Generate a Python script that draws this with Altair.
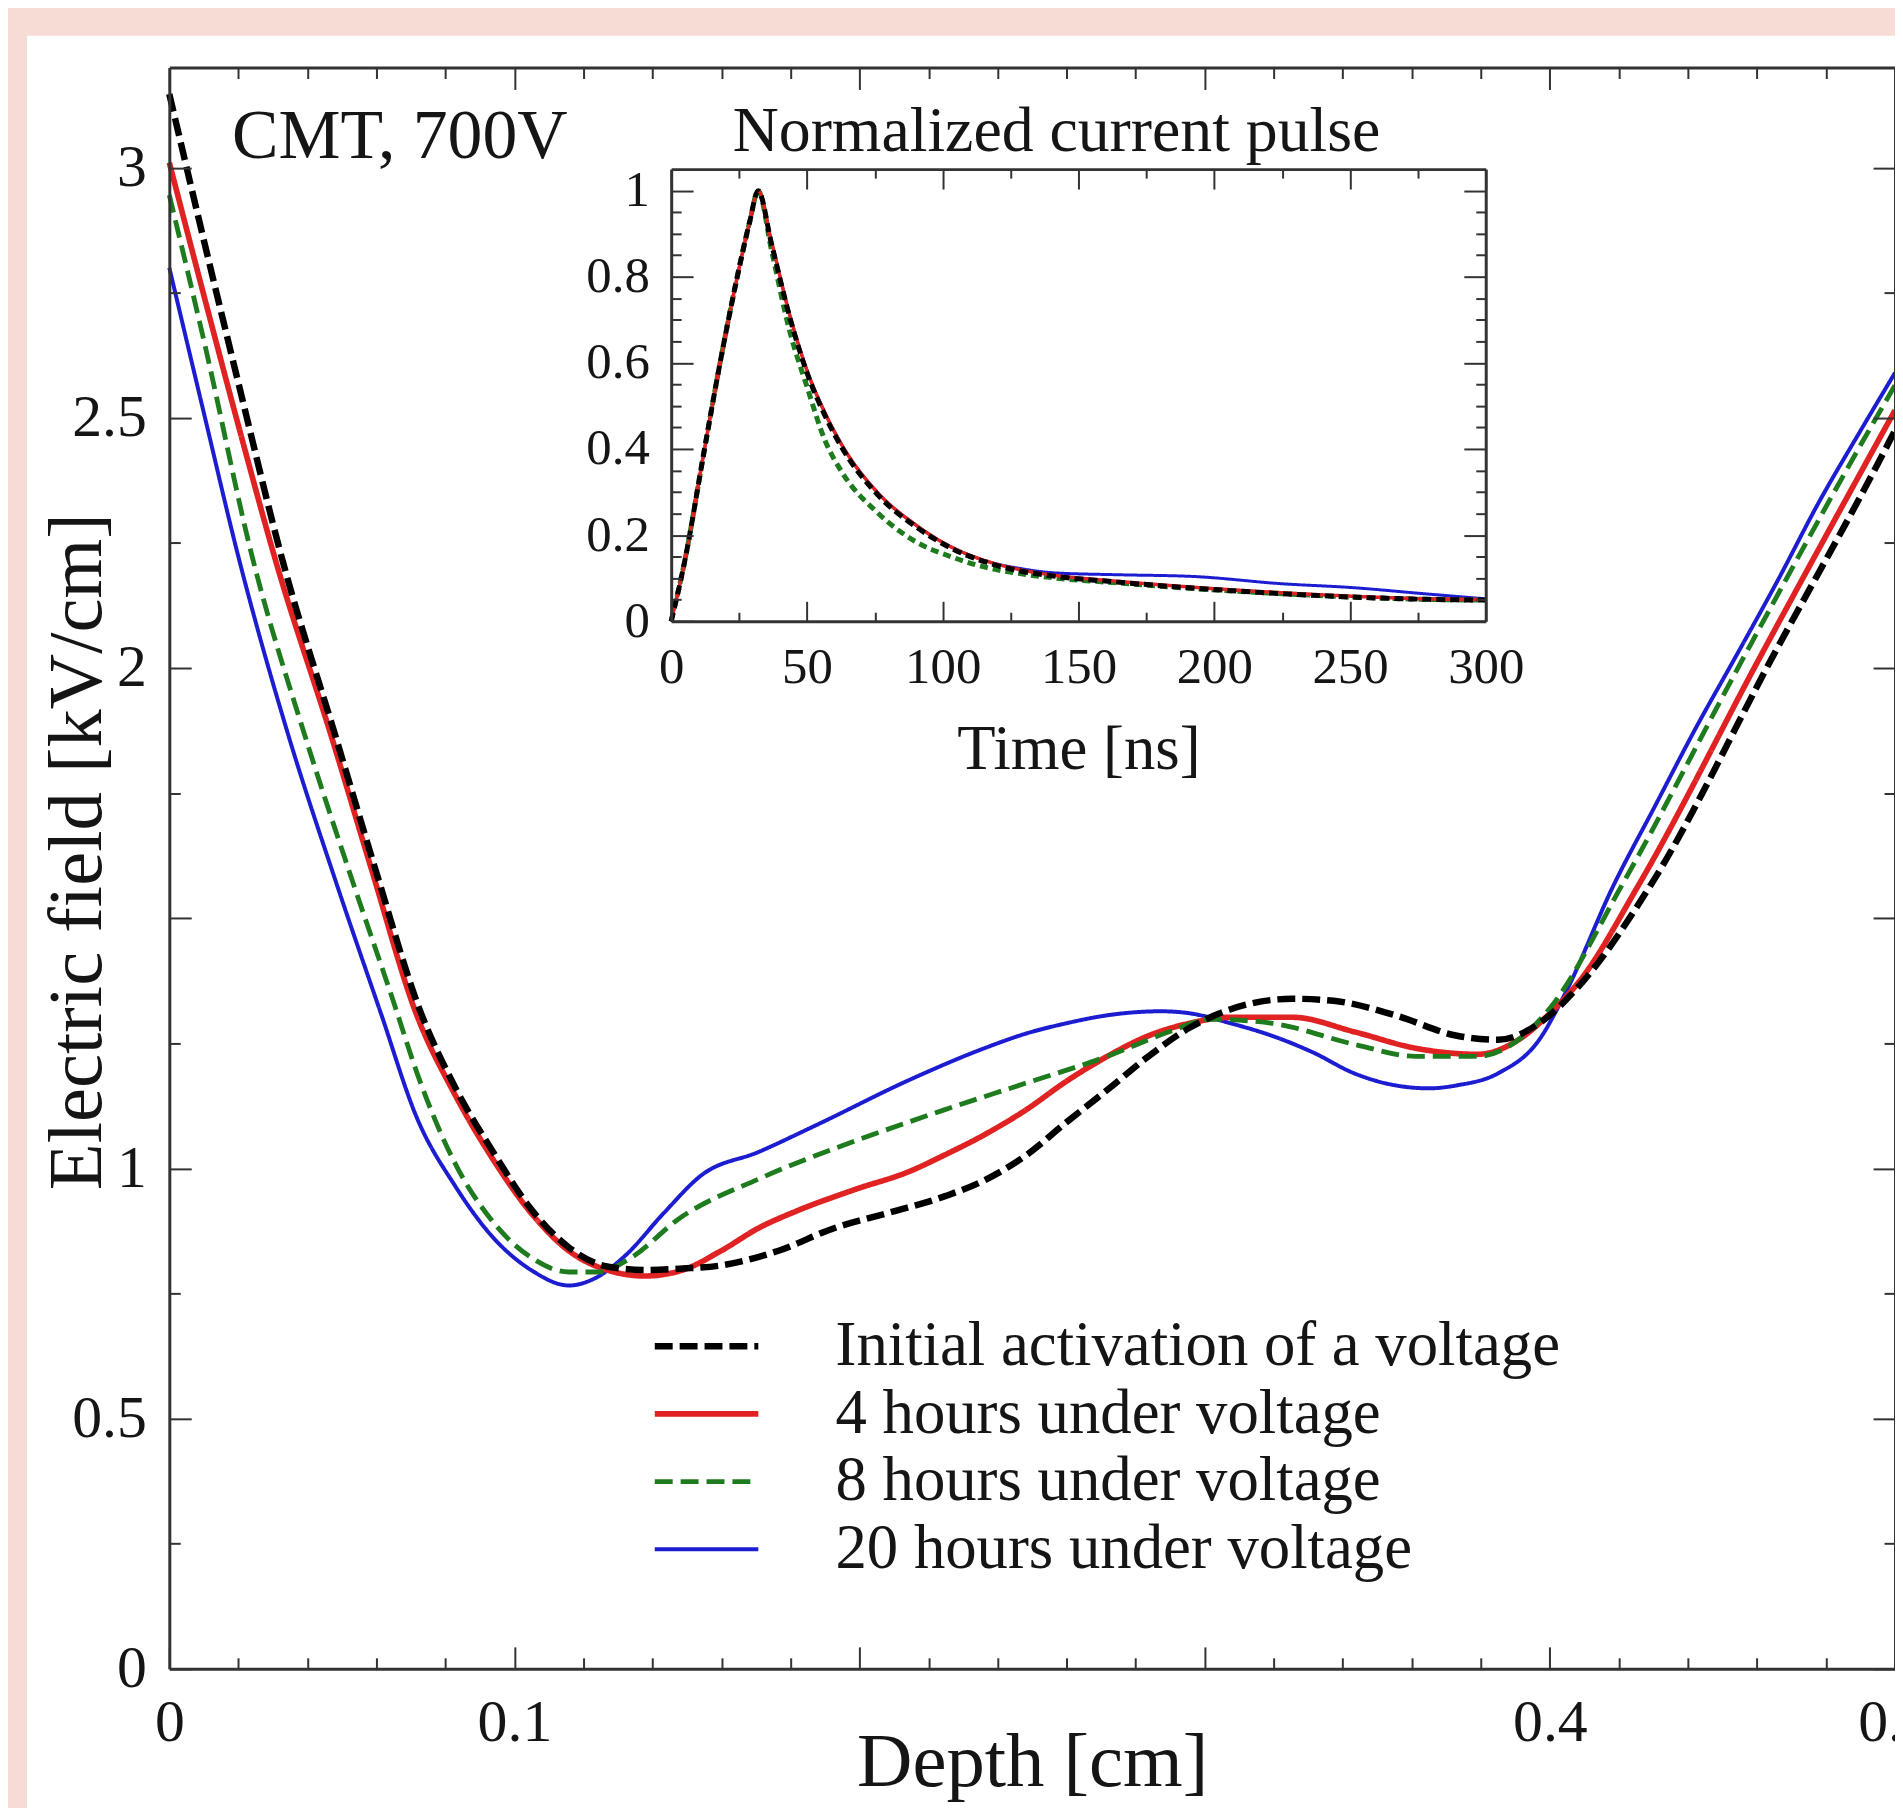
import altair as alt
import pandas as pd

# ---------------- data ----------------
series_names = [
    "Initial activation of a voltage",
    "4 hours under voltage",
    "8 hours under voltage",
    "20 hours under voltage",
]
series_colors = ["#000000", "#e02222", "#1e7b1e", "#1c1cd0"]

# main panel: electric field vs depth
depth_initial = [0, 0.01, 0.02, 0.033, 0.0484, 0.060, 0.0725, 0.0828, 0.0938, 0.1048, 0.1158, 0.1268,
                 0.1378, 0.1488, 0.1598, 0.1763, 0.1928, 0.2093, 0.2250, 0.2361, 0.2480, 0.2599, 0.2718,
                 0.2837, 0.2956, 0.3075, 0.3254, 0.3373, 0.3552, 0.3731, 0.3850, 0.3969, 0.4100, 0.4291,
                 0.4649, 0.4980, 0.5]
field_initial = [3.147, 2.855, 2.57, 2.21, 1.858, 1.591, 1.318, 1.162, 1.033, 0.919, 0.842, 0.804,
                 0.797, 0.800, 0.806, 0.835, 0.881, 0.913, 0.945, 0.976, 1.025, 1.092, 1.157,
                 1.224, 1.281, 1.318, 1.339, 1.335, 1.306, 1.265, 1.257, 1.290, 1.377, 1.565,
                 2.027, 2.448, 2.475]

depth_4h = [0, 0.01, 0.02, 0.031, 0.0472, 0.0587, 0.0715, 0.0828, 0.0938, 0.1048, 0.1158, 0.1268,
            0.1378, 0.1488, 0.1598, 0.1708, 0.1818, 0.1983, 0.2148, 0.2241, 0.2361, 0.2480, 0.2599,
            0.2718, 0.2837, 0.2956, 0.3075, 0.3254, 0.3433, 0.3612, 0.3790, 0.3909, 0.4000, 0.4089,
            0.4256, 0.4613, 0.4980, 0.5]
field_4h = [3.01, 2.745, 2.485, 2.21, 1.858, 1.595, 1.31, 1.147, 1.018, 0.911, 0.835, 0.797,
            0.785, 0.797, 0.835, 0.881, 0.915, 0.957, 0.995, 1.025, 1.067, 1.116, 1.174,
            1.224, 1.265, 1.290, 1.302, 1.302, 1.273, 1.240, 1.228, 1.257, 1.310, 1.377,
            1.565, 2.027, 2.490, 2.515]

depth_8h = [0, 0.01, 0.0241, 0.0395, 0.0523, 0.0651, 0.0718, 0.0828, 0.0938, 0.1048, 0.1158, 0.1246,
            0.1323, 0.1488, 0.1708, 0.1928, 0.2148, 0.2241, 0.2480, 0.2718, 0.2897, 0.3016, 0.3195,
            0.3433, 0.3612, 0.3790, 0.3909, 0.4000, 0.4208, 0.4566, 0.4923, 0.5]
field_8h = [2.945, 2.655, 2.22, 1.86, 1.59, 1.33, 1.19, 1.01, 0.893, 0.822, 0.793, 0.793,
            0.815, 0.905, 0.979, 1.040, 1.094, 1.116, 1.170, 1.224, 1.273, 1.298, 1.290,
            1.248, 1.224, 1.224, 1.257, 1.320, 1.565, 2.027, 2.473, 2.565]

depth_20h = [0, 0.01, 0.0201, 0.0343, 0.0484, 0.0613, 0.0718, 0.0828, 0.0938, 0.1048, 0.1158, 0.1235,
             0.1323, 0.1433, 0.1543, 0.1708, 0.1873, 0.2148, 0.2361, 0.2480, 0.2599, 0.2718, 0.2873,
             0.2956, 0.3075, 0.3195, 0.3313, 0.3433, 0.3552, 0.3650, 0.3731, 0.3850, 0.3969, 0.4041,
             0.4184, 0.4303, 0.4422, 0.4542, 0.4661, 0.4780, 0.4899, 0.5]
field_20h = [2.80, 2.51, 2.22, 1.87, 1.57, 1.31, 1.10, 0.965, 0.862, 0.797, 0.766, 0.781,
             0.827, 0.911, 0.987, 1.033, 1.086, 1.178, 1.240, 1.269, 1.290, 1.306, 1.314,
             1.310, 1.290, 1.265, 1.232, 1.190, 1.166, 1.160, 1.166, 1.190, 1.257, 1.345,
             1.565, 1.722, 1.879, 2.027, 2.176, 2.332, 2.473, 2.590]

# inset: normalized current pulse
time_ns = [0, 5, 12, 18, 24, 29, 32, 37, 43.5, 50, 56.7, 63, 76, 90, 103, 116, 129, 142, 164, 192,
           225, 251, 277, 300]
pulse_initial = [0, 0.14, 0.39, 0.60, 0.79, 0.93, 1.0, 0.875, 0.71, 0.577, 0.477, 0.402, 0.294, 0.220,
                 0.170, 0.137, 0.116, 0.104, 0.091, 0.077, 0.064, 0.056, 0.051, 0.049]
pulse_4h = [0, 0.14, 0.39, 0.60, 0.79, 0.93, 1.0, 0.88, 0.715, 0.583, 0.483, 0.408, 0.299, 0.224,
            0.173, 0.140, 0.119, 0.106, 0.093, 0.079, 0.066, 0.058, 0.052, 0.050]
pulse_8h = [0, 0.14, 0.39, 0.60, 0.79, 0.93, 1.0, 0.86, 0.677, 0.545, 0.419, 0.345, 0.252, 0.185,
            0.150, 0.125, 0.110, 0.100, 0.089, 0.076, 0.064, 0.056, 0.051, 0.049]
pulse_20h = [0, 0.14, 0.39, 0.60, 0.79, 0.93, 1.0, 0.88, 0.715, 0.583, 0.483, 0.408, 0.299, 0.224,
             0.173, 0.140, 0.122, 0.112, 0.108, 0.104, 0.087, 0.078, 0.064, 0.052]

# axis ticks / labels
x_label_values = [0, 0.1, 0.4, 0.5]
x_tick_values = [round(i * 0.02, 2) for i in range(26)]
y_label_values = [0, 0.5, 1, 2, 2.5, 3]
y_tick_values = [round(i * 0.25, 2) for i in range(13)]
inset_x_values = [0, 50, 100, 150, 200, 250, 300]
inset_x_ticks = [i * 25 for i in range(13)]
inset_y_values = [0, 0.2, 0.4, 0.6, 0.8, 1]
inset_y_ticks = [round(i * 0.05, 2) for i in range(21)]

annotation_text = ["CMT, 700V"]
inset_title_text = ["Normalized current pulse"]

# ---------------- tables ----------------
main_rows = []
for name, xs, ys in zip(series_names,
                        [depth_initial, depth_4h, depth_8h, depth_20h],
                        [field_initial, field_4h, field_8h, field_20h]):
    for a, b in zip(xs, ys):
        main_rows.append({"series": name, "depth": a, "field": b})
df_main = pd.DataFrame(main_rows)

inset_rows = []
for name, ys in zip(series_names, [pulse_initial, pulse_4h, pulse_8h, pulse_20h]):
    for a, b in zip(time_ns, ys):
        inset_rows.append({"series": name, "time": a, "pulse": b})
df_inset = pd.DataFrame(inset_rows)

# ---------------- layout / style ----------------
W, H = 1733, 1608
PAD_L, PAD_T, PAD_B = 162, 56, 136
IN_L, IN_R, IN_T, IN_B = 504, 1322, 102, 556
FONT = "Liberation Serif"
TXT = "#151515"
AX = "#333333"

main_dash = [[18, 7], [1, 0], [18, 8], [1, 0]]
main_width = [6.5, 4, 6, 3.6]
inset_dash = [[9, 5], [1, 0], [8, 5], [1, 0]]
inset_width = [5, 3.5, 5, 3]

sx_main = alt.Scale(domain=[0, 0.5], nice=False, zero=False)
sy_main = alt.Scale(domain=[0, 3.2], nice=False, zero=False)
sx_in = alt.Scale(domain=[0, 300], range=[IN_L, IN_R], nice=False, zero=False)
sy_in = alt.Scale(domain=[0, 1.05], range=[IN_B, IN_T], nice=False, zero=False)


def tick_axis(orient, offset, values, test, major, minor, domain=False):
    return alt.Axis(orient=orient, offset=offset, values=values, labels=False,
                    domain=domain, domainColor=AX, domainWidth=3, grid=False, ticks=True,
                    tickSize={"condition": {"test": test, "value": major}, "value": minor},
                    tickColor=AX, tickWidth=2, title="", zindex=1)


TEST_X = "abs(datum.value*10 - round(datum.value*10)) < 1e-6"
TEST_Y = "abs(datum.value*2 - round(datum.value*2)) < 1e-6"
TEST_IX = "datum.value % 50 == 0"
TEST_IY = "abs(datum.value*5 - round(datum.value*5)) < 1e-6"

legend = alt.Legend(title="", orient="none", legendX=484, legendY=1250,
                    symbolType="stroke", symbolSize=10816, clipHeight=68, rowPadding=0,
                    padding=0, labelFont=FONT, labelFontSize=63, labelColor=TXT,
                    labelOffset=74, labelLimit=2000)

x_main = alt.X("depth:Q", scale=sx_main, axis=alt.Axis(
    orient="bottom", values=x_label_values, format="~g", ticks=False, tickSize=0,
    domain=True, domainColor=AX, domainWidth=3, grid=False,
    labelFont=FONT, labelFontSize=60, labelColor=TXT, labelPadding=25,
    labelFlush=False, labelOverlap=False,
    title="Depth [cm]", titleFont=FONT, titleFontSize=77, titleFontWeight="normal",
    titleColor=TXT, titleY=117, titleBaseline="alphabetic", zindex=1))
y_main = alt.Y("field:Q", scale=sy_main, axis=alt.Axis(
    orient="left", values=y_label_values, format="~g", ticks=False, tickSize=0,
    domain=True, domainColor=AX, domainWidth=3, grid=False,
    labelFont=FONT, labelFontSize=60, labelColor=TXT, labelPadding=23,
    labelFlush=False, labelOverlap=False,
    title="Electric field [kV/cm]", titleFont=FONT, titleFontSize=77,
    titleFontWeight="normal", titleColor=TXT, titleX=-92, titleY=787, titleAngle=270,
    titleAlign="center", titleBaseline="middle", zindex=1))

# background (white figure area on pink page)
bg = alt.Chart(pd.DataFrame({"v": [0]})).mark_rect(color="white").encode(
    x=alt.value(-143), x2=alt.value(W + 80), y=alt.value(-32), y2=alt.value(1800))


def main_line(name):
    return alt.Chart(df_main).transform_filter(alt.datum.series == name).mark_line(
        interpolate="monotone").encode(
        x=x_main, y=y_main,
        color=alt.Color("series:N", scale=alt.Scale(domain=series_names, range=series_colors), legend=legend),
        strokeDash=alt.StrokeDash("series:N", scale=alt.Scale(domain=series_names, range=main_dash), legend=legend),
        strokeWidth=alt.StrokeWidth("series:N", scale=alt.Scale(domain=series_names, range=main_width), legend=legend),
    )


draw_order = [3, 1, 2, 0]
main_lines = alt.layer(*[main_line(series_names[i]) for i in draw_order])

main_ticks_a = alt.Chart(df_main).mark_point(opacity=0).encode(
    x=alt.X("depth:Q", scale=sx_main, axis=tick_axis("top", -H, x_tick_values, TEST_X, 22, 11)),
    y=alt.Y("field:Q", scale=sy_main, axis=tick_axis("right", -W, y_tick_values, TEST_Y, 22, 11)))
main_ticks_b = alt.Chart(df_main).mark_point(opacity=0).encode(
    x=alt.X("depth:Q", scale=sx_main, axis=tick_axis("bottom", -H, x_tick_values, TEST_X, 22, 11, True)),
    y=alt.Y("field:Q", scale=sy_main, axis=tick_axis("left", -W, y_tick_values, TEST_Y, 22, 11, True)))

x_in = alt.X("time:Q", scale=sx_in, axis=alt.Axis(
    orient="bottom", offset=IN_B - H, values=inset_x_values, format="d", ticks=False, tickSize=0,
    domain=True, domainColor=AX, domainWidth=3, grid=False,
    labelFont=FONT, labelFontSize=51, labelColor=TXT, labelPadding=22,
    labelFlush=False, labelOverlap=False,
    title="Time [ns]", titleFont=FONT, titleFontSize=63, titleFontWeight="normal",
    titleColor=TXT, titleY=148, titleBaseline="alphabetic", zindex=1))
y_in = alt.Y("pulse:Q", scale=sy_in, axis=alt.Axis(
    orient="left", offset=-IN_L, values=inset_y_values, format="~g", ticks=False, tickSize=0,
    domain=True, domainColor=AX, domainWidth=3, grid=False,
    labelFont=FONT, labelFontSize=51, labelColor=TXT, labelPadding=22,
    labelFlush=False, labelOverlap=False, title="", zindex=1))


def inset_line(i):
    return alt.Chart(df_inset).transform_filter(alt.datum.series == series_names[i]).mark_line(
        interpolate="monotone", color=series_colors[i], strokeDash=inset_dash[i],
        strokeWidth=inset_width[i]).encode(x=x_in, y=y_in)


inset_lines = alt.layer(*[inset_line(i) for i in [3, 2, 1, 0]])

inset_ticks_a = alt.Chart(df_inset).mark_point(opacity=0).encode(
    x=alt.X("time:Q", scale=sx_in, axis=tick_axis("top", -IN_B, inset_x_ticks, TEST_IX, 20, 9)),
    y=alt.Y("pulse:Q", scale=sy_in, axis=tick_axis("right", IN_L - W, inset_y_ticks, TEST_IY, 22, 10)))
inset_ticks_b = alt.Chart(df_inset).mark_point(opacity=0).encode(
    x=alt.X("time:Q", scale=sx_in, axis=tick_axis("bottom", IN_T - H, inset_x_ticks, TEST_IX, 20, 9, True)),
    y=alt.Y("pulse:Q", scale=sy_in, axis=tick_axis("left", -IN_R, inset_y_ticks, TEST_IY, 22, 10, True)))

cmt = alt.Chart(pd.DataFrame({"t": annotation_text})).mark_text(
    font=FONT, fontSize=70, color=TXT, align="left", baseline="alphabetic").encode(
    x=alt.value(63), y=alt.value(91), text="t:N")
inset_title = alt.Chart(pd.DataFrame({"t": inset_title_text})).mark_text(
    font=FONT, fontSize=64, color=TXT, align="center", baseline="alphabetic").encode(
    x=alt.value(891), y=alt.value(84), text="t:N")

chart = alt.layer(
    bg, main_lines, main_ticks_a, main_ticks_b,
    inset_lines, inset_ticks_a, inset_ticks_b, cmt, inset_title,
).resolve_scale(x="independent", y="independent").resolve_axis(
    x="independent", y="independent"
).properties(
    width=W, height=H, background="#f6dcd5",
    autosize=alt.AutoSizeParams(type="none"),
    padding={"left": PAD_L, "top": PAD_T, "right": 0, "bottom": PAD_B},
).configure_view(stroke="transparent")

chart.save("out.html", embed_options={"renderer": "svg", "actions": False})
